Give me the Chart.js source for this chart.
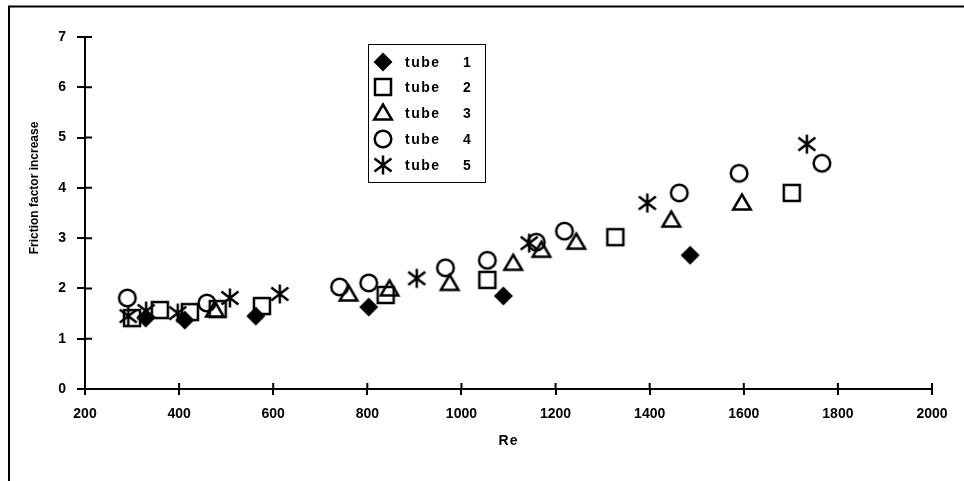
<!DOCTYPE html>
<html><head><meta charset="utf-8">
<script src="https://cdn.jsdelivr.net/npm/chart.js@4/dist/chart.umd.min.js"></script>
<style>html,body{margin:0;padding:0;background:#fff}canvas{display:block}</style>
</head><body>
<canvas id="c" width="964" height="481"></canvas>
<script>
// ---- data ----
const seriesNames = ['tube', 'tube', 'tube', 'tube', 'tube'];
const seriesNums = ['1', '2', '3', '4', '5'];
const tube1Re = [329, 412, 563, 803, 1089, 1486];
const tube1F  = [1.41, 1.37, 1.45, 1.63, 1.85, 2.66];
const tube2Re = [300, 359, 423, 482, 576, 839, 1055, 1327, 1702];
const tube2F  = [1.41, 1.57, 1.53, 1.59, 1.65, 1.87, 2.17, 3.02, 3.9];
const tube3Re = [476, 760, 847, 975, 1110, 1170, 1244, 1446, 1596];
const tube3F  = [1.57, 1.89, 1.99, 2.1, 2.5, 2.76, 2.92, 3.36, 3.7];
const tube4Re = [290, 459, 741, 803, 966, 1055, 1159, 1219, 1463, 1590, 1766];
const tube4F  = [1.81, 1.71, 2.03, 2.11, 2.41, 2.56, 2.92, 3.14, 3.9, 4.29, 4.49];
const tube5Re = [292, 330, 397, 508, 614, 905, 1144, 1395, 1734];
const tube5F  = [1.45, 1.55, 1.51, 1.81, 1.89, 2.2, 2.9, 3.7, 4.87];
const xTicks = [200, 400, 600, 800, 1000, 1200, 1400, 1600, 1800, 2000];
const yTicks = [0, 1, 2, 3, 4, 5, 6, 7];
const xTitle = 'Re';
const yTitle = 'Friction factor increase';

// ---- markers ----
function makeMarker(kind) {
  const s = 26, c = document.createElement('canvas');
  c.width = s; c.height = s;
  const g = c.getContext('2d');
  g.strokeStyle = '#000'; g.fillStyle = '#000'; g.lineWidth = 2.5;
  const m = s / 2;
  g.beginPath();
  if (kind === 'diamond') {
    g.moveTo(m, m - 9.5); g.lineTo(m + 9.5, m); g.lineTo(m, m + 9.5); g.lineTo(m - 9.5, m); g.closePath(); g.fill();
  } else if (kind === 'square') {
    g.rect(m - 8, m - 8, 16, 16); g.stroke();
  } else if (kind === 'triangle') {
    g.moveTo(m, m - 8.5); g.lineTo(m + 8.8, m + 6.5); g.lineTo(m - 8.8, m + 6.5); g.closePath(); g.stroke();
  } else if (kind === 'circle') {
    g.arc(m, m, 8.3, 0, Math.PI * 2); g.stroke();
  } else {
    g.moveTo(m, m - 9.5); g.lineTo(m, m + 9.5);
    g.moveTo(m - 8.5, m - 6.5); g.lineTo(m + 8.5, m + 6.5);
    g.moveTo(m + 8.5, m - 6.5); g.lineTo(m - 8.5, m + 6.5);
    g.stroke();
  }
  return c;
}
const markers = [makeMarker('diamond'), makeMarker('square'), makeMarker('triangle'), makeMarker('circle'), makeMarker('star')];

const pairs = (xs, ys) => xs.map((x, i) => ({x, y: ys[i]}));
const allRe = [tube1Re, tube2Re, tube3Re, tube4Re, tube5Re];
const allF = [tube1F, tube2F, tube3F, tube4F, tube5F];
const datasets = allRe.map((re, i) => ({
  label: seriesNames[i] + ' ' + seriesNums[i],
  data: pairs(re, allF[i]),
  pointStyle: markers[i],
  pointRadius: 10,
  showLine: false
}));

const FONT = '"Liberation Sans", Arial, sans-serif';

const deco = {
  id: 'deco',
  afterDraw(chart) {
    const ctx = chart.ctx, xs = chart.scales.x, ys = chart.scales.y;
    ctx.save();
    ctx.strokeStyle = '#000';
    ctx.lineWidth = 2;
    // inward halves of tick marks
    ctx.beginPath();
    xTicks.forEach(v => { const p = xs.getPixelForValue(v); ctx.moveTo(p, ys.bottom); ctx.lineTo(p, ys.bottom - 6); });
    yTicks.forEach(v => { const p = ys.getPixelForValue(v); ctx.moveTo(xs.left, p); ctx.lineTo(xs.left + 7, p); });
    ctx.stroke();
    // outer frame
    ctx.beginPath();
    ctx.moveTo(9, 481); ctx.lineTo(9, 6.5); ctx.lineTo(964, 6.5);
    ctx.stroke();
    // axis titles
    ctx.fillStyle = '#000';
    ctx.textAlign = 'center'; ctx.textBaseline = 'middle';
    ctx.font = 'bold 14px ' + FONT;
    ctx.letterSpacing = '1px';
    ctx.fillText(xTitle, (xs.left + xs.right) / 2, 441);
    ctx.letterSpacing = '0px';
    ctx.save();
    ctx.translate(35, 188);
    ctx.rotate(-Math.PI / 2);
    ctx.font = 'bold 12px ' + FONT;
    ctx.fillText(yTitle, 0, 0);
    ctx.restore();
    // legend
    const bx = 368.5, by = 44.5, bw = 117, bh = 138;
    ctx.fillStyle = '#fff';
    ctx.fillRect(bx, by, bw, bh);
    ctx.lineWidth = 1;
    ctx.strokeRect(bx, by, bw, bh);
    ctx.fillStyle = '#000';
    ctx.font = 'bold 14px ' + FONT;
    ctx.textAlign = 'left';
    const rowY = [62, 87, 113, 139, 165];
    chart.data.datasets.forEach((ds, i) => {
      const img = markers[i];
      const y = rowY[i];
      ctx.drawImage(img, 383 - img.width / 2, y - img.height / 2);
      ctx.letterSpacing = '1.5px';
      ctx.fillText(seriesNames[i], 405, y + 1);
      ctx.letterSpacing = '0px';
      ctx.fillText(seriesNums[i], 463, y + 1);
    });
    ctx.restore();
  }
};

new Chart(document.getElementById('c'), {
  type: 'scatter',
  data: { datasets },
  plugins: [deco],
  options: {
    responsive: false,
    animation: false,
    devicePixelRatio: 1,
    layout: { padding: { left: 28, top: 37, right: 32, bottom: 0 } },
    plugins: { legend: { display: false }, tooltip: { enabled: false } },
    scales: {
      x: {
        type: 'linear', min: 200, max: 2000,
        afterBuildTicks: s => { s.ticks = xTicks.map(v => ({value: v})); },
        afterFit: s => { s.height = 92; },
        border: { display: true, color: '#000', width: 2 },
        grid: { display: true, drawOnChartArea: false, drawTicks: true, tickLength: 6, color: '#000', lineWidth: 2 },
        ticks: { color: '#000', padding: 11, maxRotation: 0, callback: v => String(v), font: { family: FONT, size: 14, weight: 'bold' } }
      },
      y: {
        type: 'linear', min: 0, max: 7,
        afterBuildTicks: s => { s.ticks = yTicks.map(v => ({value: v})); },
        afterFit: s => { s.width = 57; },
        border: { display: true, color: '#000', width: 2 },
        grid: { display: true, drawOnChartArea: false, drawTicks: true, tickLength: 8, color: '#000', lineWidth: 2 },
        ticks: { color: '#000', padding: 11, callback: v => String(v), font: { family: FONT, size: 14, weight: 'bold' } }
      }
    }
  }
});
</script>
</body></html>
